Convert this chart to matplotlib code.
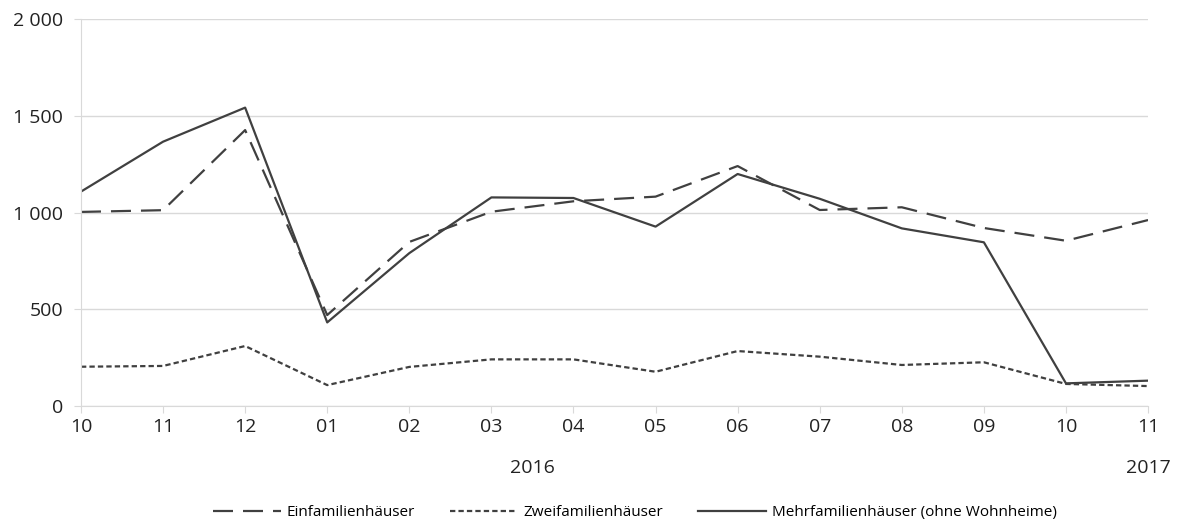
import matplotlib.pyplot as plt
from matplotlib.ticker import FuncFormatter

plt.rcParams['font.family'] = ['Open Sans', 'DejaVu Sans']

months = ["10", "11", "12", "01", "02", "03", "04", "05", "06", "07", "08", "09", "10", "11"]
years = ["2016", "2017"]
year_pos = [5.5, 13]

einfamilien = [1003, 1012, 1426, 470, 848, 1004, 1058, 1082, 1240, 1013, 1027, 920, 854, 961]
zweifamilien = [203, 207, 310, 108, 202, 241, 241, 177, 284, 255, 212, 226, 114, 103]
mehrfamilien = [1108, 1366, 1542, 432, 790, 1078, 1075, 927, 1199, 1071, 918, 846, 117, 131]

labels = ["Einfamilienhäuser", "Zweifamilienhäuser", "Mehrfamilienhäuser (ohne Wohnheime)"]

col = '#404040'
grid = '#d9d9d9'

fig = plt.figure(figsize=(11.77, 5.31), dpi=100)
ax = fig.add_axes([0.0688, 0.2354, 0.9066, 0.7288])

x = list(range(len(months)))
ax.plot(x, einfamilien, color=col, lw=1.6, dashes=(9, 4.5), label=labels[0])
ax.plot(x, zweifamilien, color=col, lw=1.6, dashes=(2.4, 1.4), label=labels[1])
ax.plot(x, mehrfamilien, color=col, lw=1.6, label=labels[2])

ax.set_xlim(0, 13)
ax.set_ylim(0, 2000)
ax.set_yticks([0, 500, 1000, 1500, 2000])
ax.yaxis.set_major_formatter(FuncFormatter(lambda v, p: f"{int(v):,}".replace(",", " ")))
ax.set_xticks(x)
ax.set_xticklabels(months)
ax.grid(axis='y', color=grid, lw=1)
ax.set_axisbelow(True)
for s in ['top', 'right']:
    ax.spines[s].set_visible(False)
for s in ['left', 'bottom']:
    ax.spines[s].set_color(grid)
ax.tick_params(axis='both', colors=grid, labelcolor='#222222', labelsize=14, length=5)
ax.tick_params(axis='y', pad=8)

for yr, p in zip(years, year_pos):
    ax.text(p, -0.137, yr, transform=ax.get_xaxis_transform(), ha='center', va='top',
            fontsize=14, color='#222222')

fig.legend(loc='lower center', bbox_to_anchor=(0.5395, -0.005), ncol=3, frameon=False,
           prop={'size': 11}, handlelength=4.4, columnspacing=2.3, handletextpad=0.4)

fig.savefig('out.png', dpi=100)
